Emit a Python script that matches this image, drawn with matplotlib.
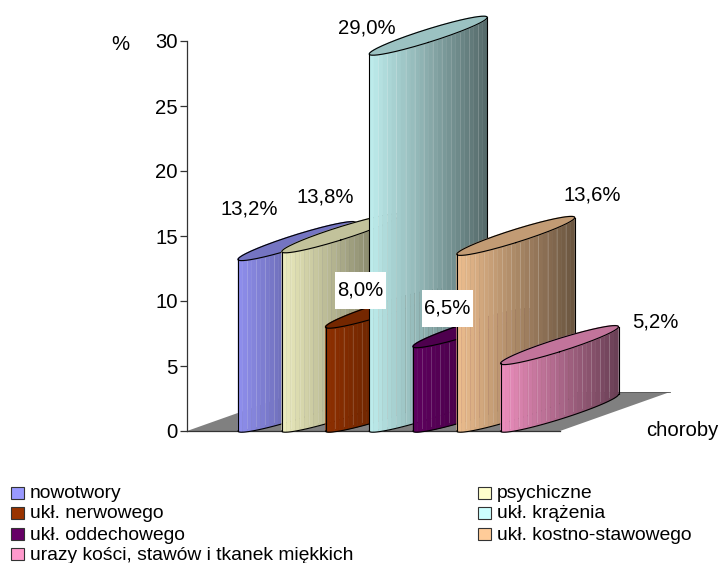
import numpy as np
import matplotlib.pyplot as plt
from matplotlib.colors import to_rgb
from matplotlib.patches import Rectangle

plt.rcParams['font.family'] = ['Liberation Sans', 'DejaVu Sans']

categories = ['nowotwory', 'psychiczne', 'ukł. nerwowego', 'ukł. krążenia',
              'ukł. oddechowego', 'ukł. kostno-stawowego',
              'urazy kości, stawów i tkanek miękkich']
values = [13.2, 13.8, 8.0, 29.0, 6.5, 13.6, 5.2]
colors = ['#9999FF', '#FFFFCC', '#993300', '#CCFFFF', '#660066', '#FFCC99', '#FF99CC']
yticks = [0, 5, 10, 15, 20, 25, 30]

# label centres in figure pixels, white box only where it sits on a bar
label_pos = [(249, 209), (325, 197), (360.5, 290), (367, 28), (447.5, 308), (592, 195), (655, 322)]
label_box = [False, False, True, False, True, False, False]
box_w, box_h = 51, 37

# legend rows in figure pixels
legend_pos = [(11, 493), (478, 493), (11, 513), (478, 513), (11, 534), (478, 534), (11, 554)]

W, H = 721, 563
AX_L, AX_R, AX_T, AX_B = 187, 560, 41, 431

# cylinder geometry, x in pixels and y in percent
first_x = 51
step_x = 43.75
half_w = 59
depth_x = 110
depth_y = 3.0
ax_px = 20.4
bx_px = np.sqrt(half_w**2 - ax_px**2)
by_val = 1.5
delta = np.arctan2(ax_px, bx_px)
n_strips = 26


def px_x(x):
    return x - AX_L


def px_y(y):
    return (AX_B - y) / 13.0


def shade(col, k):
    return tuple(min(1, c * k) for c in to_rgb(col))


def arc(cx, cy, s):
    return cx + half_w * np.sin(s), cy + by_val * np.sin(s - delta)


def draw_cylinder(ax, x0, val, col, z):
    cx = x0 + half_w
    base = by_val * np.cos(delta)
    top = val + base

    # front surface, narrow strips going darker to the right
    edges = np.arcsin(np.linspace(-1, 1, n_strips + 1))
    for i in range(n_strips):
        s = np.linspace(edges[i], edges[i + 1], 6)
        xa, ya = arc(cx, base, s)
        xb, yb = arc(cx, top, s)
        k = 0.92 - 0.5 * i / (n_strips - 1)
        ax.fill(np.r_[xa, xb[::-1]], np.r_[ya, yb[::-1]], color=shade(col, k),
                lw=0.3, clip_on=False, zorder=z)
        if i % 2 == 1:
            ax.plot([xa[-1], xa[-1]], [ya[-1] + 0.3, yb[-1] - 0.1], color='white', alpha=0.16,
                    lw=0.7, clip_on=False, zorder=z + 0.1)

    s = np.linspace(-np.pi / 2, np.pi / 2, 80)
    xa, ya = arc(cx, base, s)
    xb, yb = arc(cx, top, s)
    outline = dict(color='black', lw=0.8, clip_on=False, zorder=z + 0.3)
    ax.plot(xa, ya, **outline)
    ax.plot([xa[0], xb[0]], [ya[0], yb[0]], **outline)
    ax.plot([xa[-1], xb[-1]], [ya[-1], yb[-1]], **outline)

    # top ellipse
    s = np.linspace(0, 2 * np.pi, 160)
    xt, yt = arc(cx, top, s)
    ax.fill(xt, yt, color=shade(col, 0.76), clip_on=False, zorder=z + 0.2)
    ax.plot(xt, yt, **outline)


fig = plt.figure(figsize=(W / 100, H / 100), dpi=100)
ax = fig.add_axes([AX_L / W, 1 - AX_B / H, (AX_R - AX_L) / W, (AX_B - AX_T) / H])
ax.set_xlim(0, AX_R - AX_L)
ax.set_ylim(0, 30)
ax.patch.set_visible(False)

for side in ['top', 'right', 'bottom']:
    ax.spines[side].set_visible(False)
ax.spines['left'].set_color('#333333')
ax.spines['left'].set_linewidth(0.9)
ax.set_xticks([])
ax.set_yticks(yticks)
ax.tick_params(axis='y', length=5, width=0.9, color='#333333', labelsize=14.6, pad=1.5)

# floor
ax.fill([0, AX_R - AX_L, AX_R - AX_L + depth_x, depth_x], [0, 0, depth_y, depth_y],
        color='#808080', lw=0, clip_on=False, zorder=1)
ax.plot([0, AX_R - AX_L], [0, 0], color='#333333', lw=0.9, clip_on=False, zorder=1.5)
ax.plot([depth_x, AX_R - AX_L + depth_x], [depth_y, depth_y], color='#555555', lw=0.6,
        clip_on=False, zorder=1.5)

for i, v in enumerate(values):
    draw_cylinder(ax, first_x + i * step_x, v, colors[i], 2 + i)

for v, (lx, ly), boxed in zip(values, label_pos, label_box):
    txt = f'{v:.1f}%'.replace('.', ',')
    if boxed:
        ax.add_patch(Rectangle((px_x(lx - box_w / 2), px_y(ly + box_h / 2)), box_w, box_h / 13.0,
                               facecolor='white', edgecolor='none', clip_on=False, zorder=19))
    ax.text(px_x(lx), px_y(ly), txt, fontsize=14.6, ha='center', va='center',
            clip_on=False, zorder=20)

ax.text(px_x(120), px_y(44), '%', fontsize=14.6, ha='center', va='center', clip_on=False)
ax.text(px_x(682.5), px_y(430), 'choroby', fontsize=14.6, ha='center', va='center', clip_on=False)

# legend, laid out by hand in two columns
for name, col, (lx, ly) in zip(categories, colors, legend_pos):
    fig.add_artist(Rectangle((lx / W, 1 - (ly + 6) / H), 12.5 / W, 12 / H, facecolor=col,
                             edgecolor='#333333', linewidth=0.8, transform=fig.transFigure))
    fig.text((lx + 19) / W, 1 - (ly + 1) / H, name, fontsize=13.9, ha='left', va='center')

fig.savefig('out.png', dpi=100)
